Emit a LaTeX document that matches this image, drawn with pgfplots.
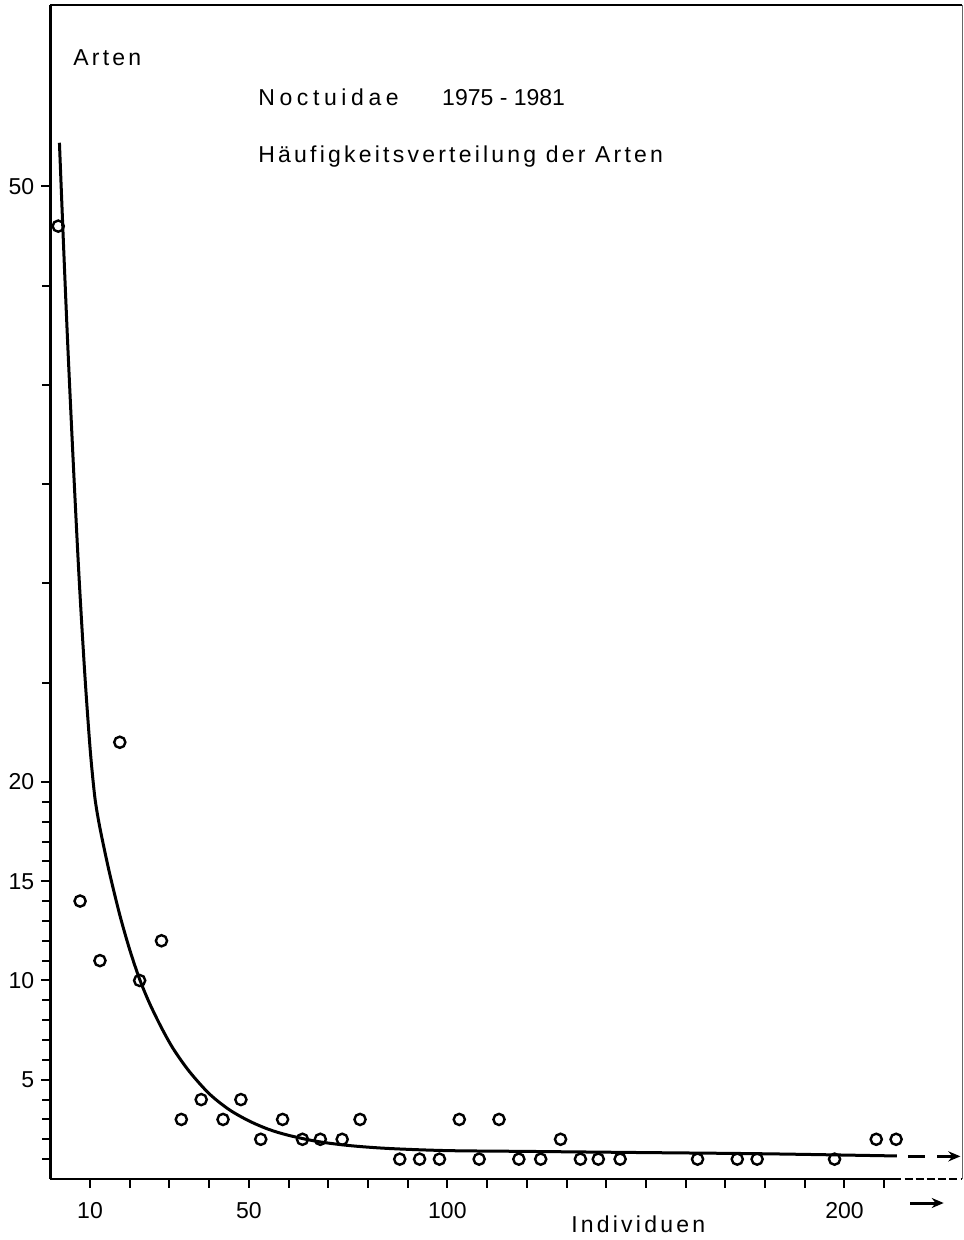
\documentclass[border=0pt]{standalone}
\usepackage{fontspec}
\setmainfont{Liberation Sans}
\newfontfamily\trackfont[LetterSpace=14]{Liberation Sans}
\usepackage{pgfplots}
\pgfplotsset{compat=1.18}
\usetikzlibrary{arrows.meta}
\newcommand{\fs}{\fontsize{11.5}{13.8}\selectfont}
\begin{document}
\begin{tikzpicture}
\begin{axis}[
  scale only axis, width=455.85pt, height=587pt,
  xmin=0, xmax=229.6, ymin=0, ymax=59.14,
  axis x line*=bottom, axis y line*=left,
  x axis line style={draw=none},
  axis line style={line width=1.2pt},
  tick align=outside,
  major tick length=4.5pt, minor tick length=4pt,
  every tick/.style={black, line width=1pt},
  xtick={10,20,...,210},
  xticklabels={10,{},{},{},50,{},{},{},{},100,{},{},{},{},{},{},{},{},{},200,{}},
  ytick={5,10,15,20,50},
  minor ytick={1,2,3,4,6,7,8,9,11,12,13,14,16,17,18,19,25,30,35,40,45},
  tick label style={font=\fs},
  xticklabel style={yshift=-3.5pt},
  /pgf/number format/assume math mode=true,
  clip=false,
]
% frame
\draw[line width=1.2pt] (axis cs:0,0) -- (axis cs:212.3,0);
\draw[line width=1.2pt, dash pattern=on 4pt off 1.6pt] (axis cs:212.3,0) -- (axis cs:229.6,0);
\draw[line width=1.2pt] (axis cs:0,59.14) -- (axis cs:229.6,59.14);
\draw[line width=0.5pt, black!60] (axis cs:229.6,59.14) -- (axis cs:229.6,0);

% fitted curve
\addplot[line width=1.5pt, smooth] coordinates {
(2.3,52.2)(3.3,47.2)(4.4,42.0)(5.9,35.6)(7.3,30.1)(8.7,25.4)(9.9,22.0)
(10.6,20.4)(11.3,19.1)(12.2,18.0)(13.3,16.9)(15,15.34)(17.5,13.3)(20,11.55)
(22.5,10.06)(25,8.85)(28,7.62)(31,6.55)(35,5.42)(40,4.3)(45,3.5)(50,2.93)
(55,2.5)(60,2.2)(67,1.9)(75,1.69)(85,1.54)(100,1.43)(120,1.39)(150,1.33)
(180,1.27)(213.2,1.16)
};
% observed values
\addplot[only marks, mark=o, mark size=2.8pt, line width=1.2pt] coordinates {
(2,48)(7.5,14)(12.5,11)(17.5,22)(22.5,10)(28,12)(33,3)(38,4)(43.5,3)(48,4)
(53,2)(58.5,3)(63.5,2)(68,2)(73.5,2)(78,3)(88,1)(93,1)(98,1)(103,3)(108,1)
(113,3)(118,1)(123.5,1)(128.5,2)(133.5,1)(138,1)(143.5,1)(163,1)(173,1)
(178,1)(197.5,1)(208,2)(213,2)
};
% continuation marks
\draw[line width=1.5pt] (axis cs:216.1,1.14) -- (axis cs:220.3,1.14);
\draw[line width=1.5pt, -{Stealth[length=6pt,width=5pt]}] (axis cs:223.3,1.14) -- (axis cs:229.2,1.14);
\draw[line width=1.5pt, -{Stealth[length=6pt,width=5pt]}] (axis cs:216.5,-1.21) -- (axis cs:225,-1.21);

% texts
\node[anchor=base west, inner sep=0, font=\fs\trackfont] at (axis cs:5.7,56.1) {Arten};
\node[anchor=base west, inner sep=0, font=\fs\trackfont\addfontfeature{LetterSpace=20}] at (axis cs:52.3,54.1) {Noctuidae};
\node[anchor=base west, inner sep=0, font=\fs] at (axis cs:98.6,54.1) {1975 - 1981};
\node[anchor=base west, inner sep=0, font=\fs\trackfont] at (axis cs:52.3,51.2) {Häufigkeitsverteilung der Arten};
\node[anchor=base west, inner sep=0, font=\fs\trackfont] at (axis cs:131.1,-2.72) {Individuen};
\end{axis}
\pgfresetboundingbox
\path[use as bounding box] ([xshift=-25.15pt,yshift=-30.5pt]current axis.south west) rectangle ([xshift=0.5pt,yshift=2.5pt]current axis.north east);
\end{tikzpicture}
\end{document}
